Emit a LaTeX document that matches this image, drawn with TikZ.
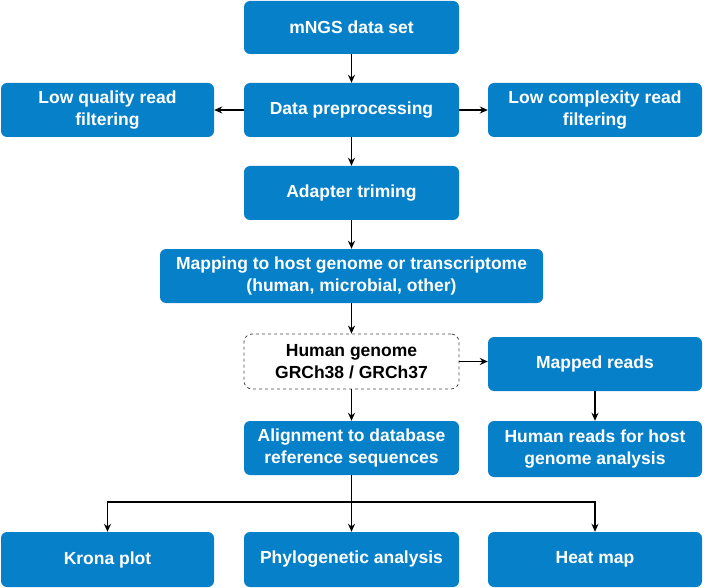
\documentclass[tikz,border=0pt]{standalone}
\usepackage{fontspec}
\setmainfont{Liberation Sans}
\usetikzlibrary{arrows.meta}
\definecolor{boxblue}{HTML}{0681C9}
\begin{document}
\begin{tikzpicture}[x=1pt,y=-1pt,
  bluebox/.style={draw=none,fill=boxblue,rounded corners=6pt,text=white,font=\bfseries\fontsize{17.5}{22}\selectfont,align=center,inner sep=0pt},
  dashbox/.style={draw=black!70,dashed,fill=white,rounded corners=8pt,text=black,font=\bfseries\fontsize{17.5}{22}\selectfont,align=center,inner sep=0pt,line width=0.8pt},
  conn/.style={draw=black,line width=1.5pt,-{Stealth[length=8pt,width=7pt]}}]
\useasboundingbox (0,0) rectangle (704,588);
\node[bluebox,minimum width=215pt,minimum height=53pt] (mngs) at (351.5,27.5) {mNGS data set};
\node[bluebox,minimum width=215pt,minimum height=54pt] (pre) at (351.5,110) {Data preprocessing};
\node[bluebox,minimum width=213pt,minimum height=54pt] (lq) at (107.5,110) {Low quality read\\filtering};
\node[bluebox,minimum width=214pt,minimum height=54pt] (lc) at (595,110) {Low complexity read\\filtering};
\node[bluebox,minimum width=215pt,minimum height=54pt] (adp) at (351.5,193) {Adapter triming};
\node[bluebox,minimum width=383pt,minimum height=54pt] (map) at (351.5,276) {Mapping to host genome or transcriptome\\(human, microbial, other)};
\node[dashbox,minimum width=215pt,minimum height=55pt] (hg) at (351.5,361.5) {Human genome\\GRCh38 / GRCh37};
\node[bluebox,minimum width=214pt,minimum height=54pt] (mr) at (595,364) {Mapped reads};
\node[bluebox,minimum width=214pt,minimum height=56pt] (hr) at (595,449) {Human reads for host\\genome analysis};
\node[bluebox,minimum width=215pt,minimum height=54pt] (aln) at (351.5,448) {Alignment to database\\reference sequences};
\node[bluebox,minimum width=213pt,minimum height=55pt] (kr) at (107.5,559.5) {Krona plot};
\node[bluebox,minimum width=215pt,minimum height=55pt] (phy) at (351.5,559.5) {Phylogenetic analysis};
\node[bluebox,minimum width=214pt,minimum height=55pt] (hm) at (595,559.5) {Heat map};
\coordinate (br) at (351.5,502);
\draw[conn] (mngs) -- (pre);
\draw[conn] (pre) -- (lq);
\draw[conn] (pre) -- (lc);
\draw[conn] (pre) -- (adp);
\draw[conn] (adp) -- (map);
\draw[conn] (map) -- (hg);
\draw[conn] (hg.east) -- (hg.east -| mr.west);
\draw[conn] (mr) -- (hr);
\draw[conn] (hg) -- (aln);
\draw[line width=1.5pt] (aln.south) -- (br);
\draw[conn] (br) -| (kr.north);
\draw[conn] (br) -| (hm.north);
\draw[conn] (br) -- (phy);
\end{tikzpicture}
\end{document}
